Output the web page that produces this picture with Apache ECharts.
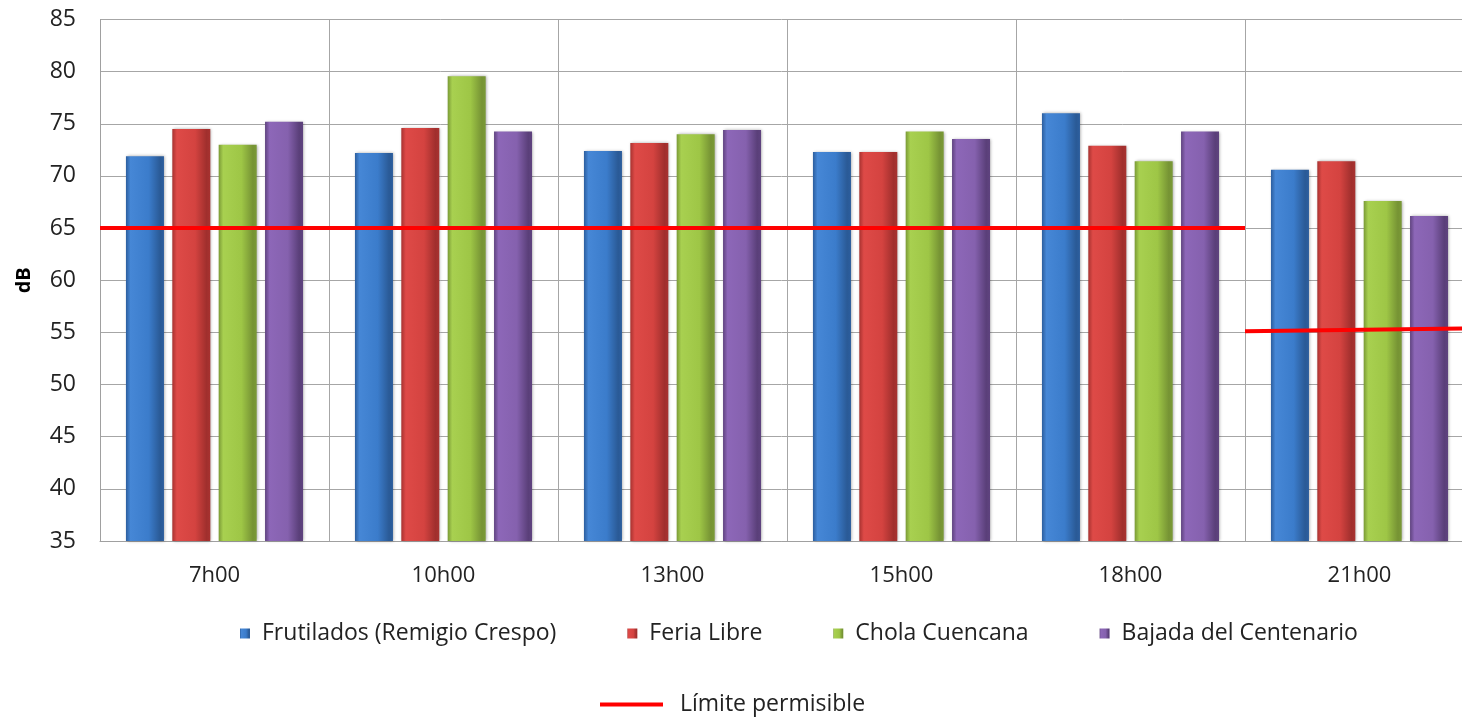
<!DOCTYPE html>
<html>
<head>
<meta charset="utf-8">
<script src="https://cdn.jsdelivr.net/npm/echarts@6/dist/echarts.min.js"></script>
<style>
html,body{margin:0;padding:0;background:#fff;overflow:hidden;}
#c{width:1462px;height:720px;}
</style>
</head>
<body>
<div id="c"></div>
<script>
const categories = ['7h00', '10h00', '13h00', '15h00', '18h00', '21h00'];
const seriesNames = ['Frutilados (Remigio Crespo)', 'Feria Libre', 'Chola Cuencana', 'Bajada del Centenario'];
const frutilados = [71.9, 72.2, 72.4, 72.3, 76.0, 70.6];
const feriaLibre = [74.5, 74.6, 73.15, 72.3, 72.9, 71.4];
const cholaCuencana = [73.0, 79.55, 74.0, 74.25, 71.4, 67.6];
const bajadaCentenario = [75.2, 74.25, 74.4, 73.55, 74.25, 66.15];
const limitName = 'Límite permisible';
const limitDay = [[0, 65], [5, 65]];
const limitNight = [[5, 55.1], [6, 55.4]];
const yTicks = [35, 85, 5];

const palettes = [
  ['#2c5e9e', '#4687d6', '#3b7ccb', '#2a5a96'],
  ['#a83230', '#de4a47', '#d44340', '#a02f2d'],
  ['#7a9a36', '#a8d050', '#9ec646', '#769334'],
  ['#5f437f', '#8d67b8', '#8561ae', '#5a3f79']
];
function grad(p) {
  return new echarts.graphic.LinearGradient(0, 0, 1, 0, [
    {offset: 0, color: p[0]},
    {offset: 0.12, color: p[1]},
    {offset: 0.6, color: p[2]},
    {offset: 0.9, color: p[3]},
    {offset: 1, color: p[0]}
  ]);
}
const values = [frutilados, feriaLibre, cholaCuencana, bajadaCentenario];
const font = '"Open Sans", "Noto Sans", sans-serif';

const barSeries = values.map((v, i) => ({
  name: seriesNames[i],
  type: 'bar',
  data: v,
  barWidth: 38,
  barGap: '22%',
  itemStyle: {
    color: grad(palettes[i]),
    shadowBlur: 3,
    shadowColor: 'rgba(0,0,0,0.35)',
    shadowOffsetX: 1,
    shadowOffsetY: 0
  },
  z: 2
}));

const lineStyle = {color: '#ff0000', width: 4};
const option = {
  animation: false,
  grid: {left: 100, top: 19.5, height: 521.5, width: 1374, containLabel: false, outerBoundsMode: 'none'},
  xAxis: [
    {
      type: 'category',
      data: categories,
      axisLine: {show: true, lineStyle: {color: '#a0a0a0'}},
      axisTick: {show: false},
      axisLabel: {color: '#222', fontSize: 22, fontFamily: font, margin: 24},
      splitLine: {show: true, interval: 0, lineStyle: {color: '#a6a6a6', width: 1}}
    },
    {
      type: 'value', min: 0, max: 6, show: false
    }
  ],
  yAxis: {
    type: 'value',
    min: yTicks[0], max: yTicks[1], interval: yTicks[2],
    name: 'dB',
    nameLocation: 'middle',
    nameGap: 66,
    nameRotate: 90,
    nameTextStyle: {fontWeight: 'bold', fontSize: 20, color: '#000', fontFamily: font},
    axisLine: {show: true, lineStyle: {color: '#a0a0a0'}},
    axisTick: {show: false},
    axisLabel: {color: '#222', fontSize: 23, fontFamily: font, margin: 24},
    splitLine: {show: true, lineStyle: {color: '#a6a6a6', width: 1}}
  },
  legend: [
    {
      data: seriesNames.map((n, i) => ({name: n, itemStyle: {color: grad(palettes[i])}})),
      top: 622,
      left: 240,
      padding: 0,
      icon: 'rect',
      itemWidth: 10,
      itemHeight: 10,
      itemGap: 71,
      textStyle: {fontSize: 23, color: '#222', fontFamily: font, padding: [0, 0, 0, 7]}
    },
    {
      data: [{name: limitName, icon: 'rect'}],
      top: 693,
      left: 600,
      padding: 0,
      itemWidth: 63,
      itemHeight: 4,
      itemGap: 10,
      textStyle: {fontSize: 23, color: '#222', fontFamily: font, padding: [0, 0, 0, 12]}
    }
  ],
  series: barSeries.concat([
    {
      name: limitName, type: 'line', xAxisIndex: 1, data: limitDay,
      symbol: 'none', lineStyle: lineStyle, itemStyle: {color: '#ff0000'}, z: 5
    },
    {
      name: limitName, type: 'line', xAxisIndex: 1, data: limitNight,
      symbol: 'none', lineStyle: lineStyle, itemStyle: {color: '#ff0000'}, z: 5
    }
  ])
};
const chart = echarts.init(document.getElementById('c'), null, {renderer: 'canvas'});
chart.setOption(option);
</script>
</body>
</html>
